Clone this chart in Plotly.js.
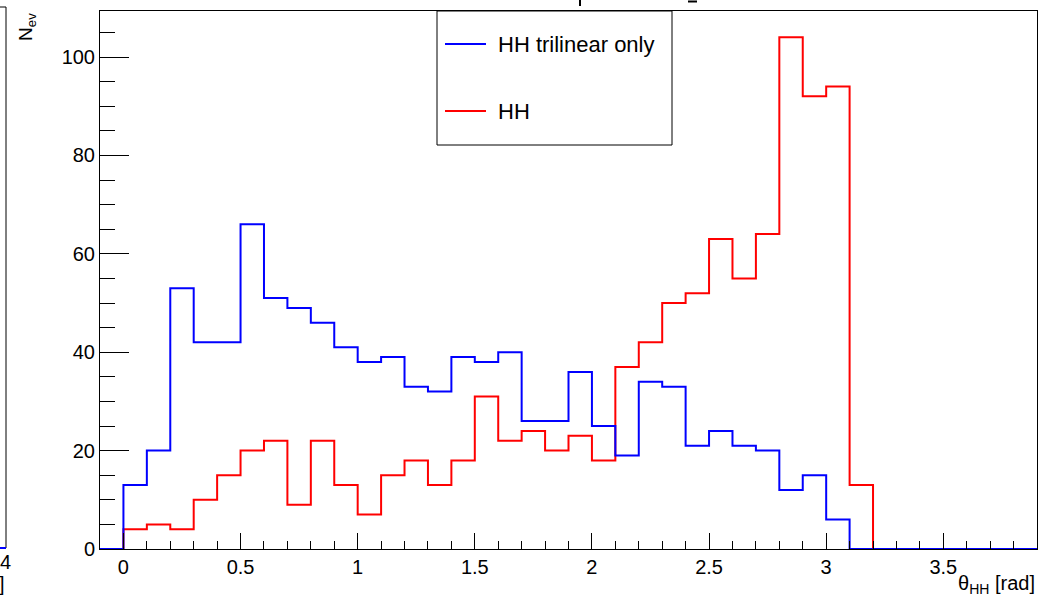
<!DOCTYPE html>
<html>
<head>
<meta charset="utf-8">
<script src="https://cdn.plot.ly/plotly-3.0.1.min.js"></script>
<style>
  html, body { margin: 0; padding: 0; background: #ffffff; }
  #chart { width: 1043px; height: 600px; }
</style>
</head>
<body>
<div id="chart"></div>
<script>
// ---- data ----
const binStart = -0.1;     // lower edge of first bin [rad]
const binWidth = 0.1;      // bin width [rad]
const seriesNames = ["HH trilinear only", "HH"];
const hhTrilinear = [0, 13, 20, 53, 42, 42, 66, 51, 49, 46, 41,
                     38, 39, 33, 32, 39, 38, 40, 26, 26, 36,
                     25, 19, 34, 33, 21, 24, 21, 20, 12, 15,
                     6, 0, 0, 0, 0, 0, 0, 0, 0];
const hhFull = [0, 4, 5, 4, 10, 15, 20, 22, 9, 22, 13,
                7, 15, 18, 13, 18, 31, 22, 24, 20, 23,
                18, 37, 42, 50, 52, 63, 55, 64, 104, 92,
                94, 13, 0, 0, 0, 0, 0, 0, 0];
const xTickVals = [0, 0.5, 1, 1.5, 2, 2.5, 3, 3.5];
const xTickText = ["0", "0.5", "1", "1.5", "2", "2.5", "3", "3.5"];
const yTickVals = [0, 20, 40, 60, 80, 100];
const yTickText = ["0", "20", "40", "60", "80", "100"];

const BLUE = "#0000ff";
const RED = "#ff0000";
const FONT = "Liberation Sans, Arial, Helvetica, sans-serif";

function stepTrace(vals, color, name) {
  const x = [], y = [];
  for (let i = 0; i < vals.length; i++) {
    x.push(+(binStart + i * binWidth).toFixed(6));
    y.push(vals[i]);
  }
  x.push(+(binStart + vals.length * binWidth).toFixed(6));
  y.push(vals[vals.length - 1]);
  return {
    type: "scatter", mode: "lines", x: x, y: y, name: name,
    line: { shape: "hv", color: color, width: 2 },
    showlegend: false, hoverinfo: "skip"
  };
}

const xMin = binStart, xMax = binStart + hhTrilinear.length * binWidth;

// plot area in pixels
const L = 100, R = 6, T = 11, B = 51;
const W = 1043, H = 600;
const pw = W - L - R, ph = H - T - B;
const px = v => (v - L) / pw;           // pixel x -> paper
const py = v => (H - B - v) / ph;       // pixel y -> paper

const traces = [
  stepTrace(hhFull, RED, seriesNames[1]),
  stepTrace(hhTrilinear, BLUE, seriesNames[0])
];

const shapes = [
  // legend box
  { type: "rect", xref: "paper", yref: "paper", x0: px(437), x1: px(672), y0: py(145), y1: py(11),
    line: { color: "#000", width: 1 }, fillcolor: "#ffffff", layer: "above" },
  { type: "line", xref: "paper", yref: "paper", x0: px(445), x1: px(486), y0: py(44), y1: py(44),
    line: { color: BLUE, width: 2 } },
  { type: "line", xref: "paper", yref: "paper", x0: px(445), x1: px(486), y0: py(111), y1: py(111),
    line: { color: RED, width: 2 } },
  // neighbouring pad fragment on the left
  { type: "line", xref: "paper", yref: "paper", x0: px(6), x1: px(6), y0: py(7), y1: py(548),
    line: { color: "#000", width: 1 } },
  { type: "line", xref: "paper", yref: "paper", x0: px(0), x1: px(6), y0: py(7), y1: py(7),
    line: { color: "#000", width: 1 } },
  { type: "line", xref: "paper", yref: "paper", x0: px(0), x1: px(6), y0: py(548), y1: py(548),
    line: { color: BLUE, width: 2 } },
  // cut-off title fragments at top
  { type: "line", xref: "paper", yref: "paper", x0: px(580), x1: px(580), y0: py(0), y1: py(6),
    line: { color: "#000", width: 2 } },
  { type: "line", xref: "paper", yref: "paper", x0: px(688), x1: px(697), y0: py(1.5), y1: py(1.5),
    line: { color: "#000", width: 2 } }
];

const annotations = [
  { xref: "paper", yref: "paper", x: px(496), y: py(44), xanchor: "left", yanchor: "middle",
    text: seriesNames[0], showarrow: false, font: { family: FONT, size: 22, color: "#000" } },
  { xref: "paper", yref: "paper", x: px(496), y: py(111), xanchor: "left", yanchor: "middle",
    text: seriesNames[1], showarrow: false, font: { family: FONT, size: 22, color: "#000" } },
  // y title
  { xref: "paper", yref: "paper", x: px(27), y: py(11), xanchor: "center", yanchor: "top",
    text: "N<sub>ev</sub>", textangle: -90, showarrow: false,
    font: { family: FONT, size: 19, color: "#000" } },
  // x title
  { xref: "paper", yref: "paper", x: px(1037), y: py(584), xanchor: "right", yanchor: "middle",
    text: "θ<sub>HH</sub> [rad]", showarrow: false,
    font: { family: FONT, size: 20, color: "#000" } },
  // left pad fragments
  { xref: "paper", yref: "paper", x: px(13), y: py(562), xanchor: "right", yanchor: "middle",
    text: "4", showarrow: false, font: { family: FONT, size: 20, color: "#000" } },
  { xref: "paper", yref: "paper", x: px(7), y: py(584), xanchor: "right", yanchor: "middle",
    text: "]", showarrow: false, font: { family: FONT, size: 20, color: "#000" } }
];

const layout = {
  width: W, height: H,
  margin: { l: L, r: R, t: T, b: B, pad: 0 },
  paper_bgcolor: "#ffffff", plot_bgcolor: "#ffffff",
  font: { family: FONT, size: 20, color: "#000" },
  showlegend: false,
  xaxis: {
    range: [xMin, xMax], showgrid: false, zeroline: false,
    showline: true, linecolor: "#000", linewidth: 1, mirror: true,
    ticks: "inside", ticklen: 16, tickcolor: "#000", tickwidth: 1,
    tickvals: xTickVals, ticktext: xTickText,
    minor: { dtick: 0.1, tick0: 0, ticks: "inside", ticklen: 8, tickcolor: "#000", tickwidth: 1, showgrid: false },
    tickfont: { family: FONT, size: 20, color: "#000" }
  },
  yaxis: {
    range: [0, 109.35], showgrid: false, zeroline: false,
    showline: true, linecolor: "#000", linewidth: 1, mirror: true,
    ticks: "inside", ticklen: 29, tickcolor: "#000", tickwidth: 1,
    tickvals: yTickVals, ticktext: yTickText,
    minor: { dtick: 5, tick0: 0, ticks: "inside", ticklen: 15, tickcolor: "#000", tickwidth: 1, showgrid: false },
    tickfont: { family: FONT, size: 20, color: "#000" }
  },
  shapes: shapes,
  annotations: annotations
};

Plotly.newPlot("chart", traces, layout, { staticPlot: true, displayModeBar: false });
</script>
</body>
</html>
